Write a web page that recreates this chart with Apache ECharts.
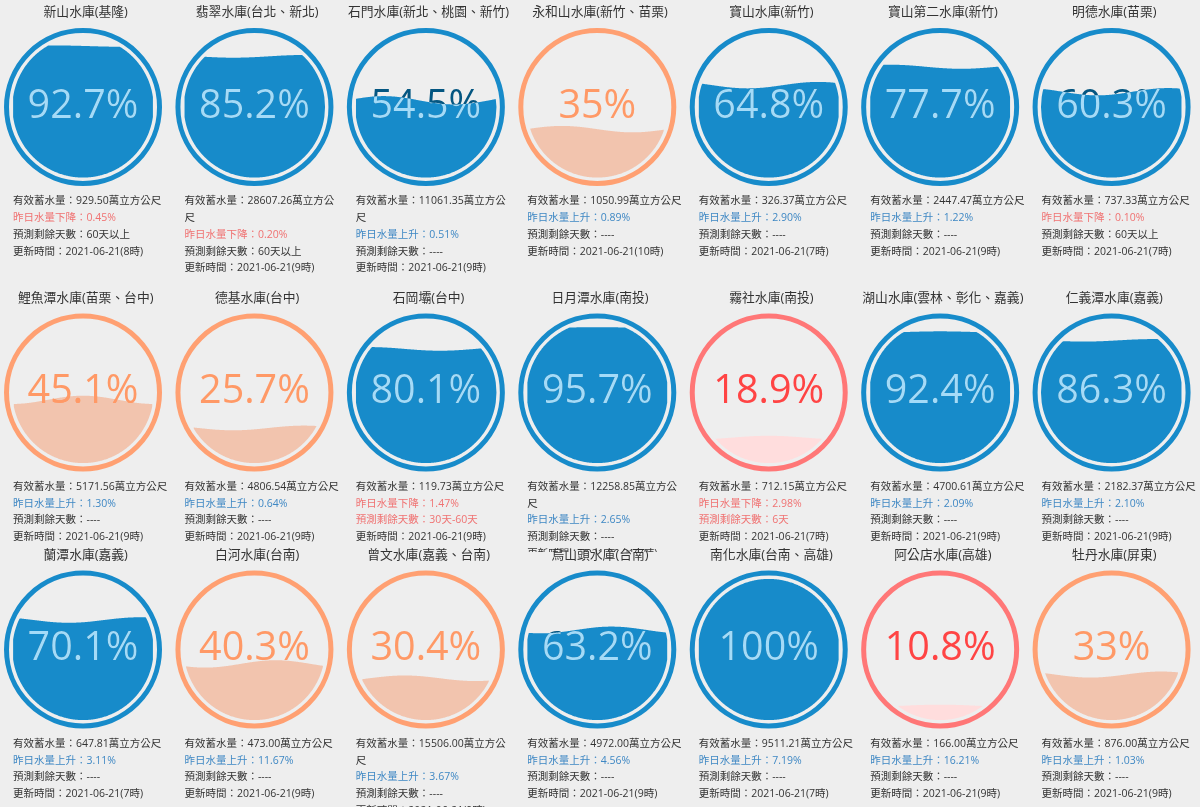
<!DOCTYPE html>
<html>
<head>
<meta charset="utf-8">
<script src="https://cdn.jsdelivr.net/npm/echarts@6/dist/echarts.min.js"></script>
<style>
html,body{margin:0;padding:0;background:#eeeeee;}
#main{width:1200px;height:807px;}
</style>
</head>
<body>
<div id="main"></div>
<script>
// ---------------- DATA ----------------
const names = [
  '新山水庫(基隆)', '翡翠水庫(台北、新北)', '石門水庫(新北、桃園、新竹)', '永和山水庫(新竹、苗栗)', '寶山水庫(新竹)', '寶山第二水庫(新竹)', '明德水庫(苗栗)',
  '鯉魚潭水庫(苗栗、台中)', '德基水庫(台中)', '石岡壩(台中)', '日月潭水庫(南投)', '霧社水庫(南投)', '湖山水庫(雲林、彰化、嘉義)', '仁義潭水庫(嘉義)',
  '蘭潭水庫(嘉義)', '白河水庫(台南)', '曾文水庫(嘉義、台南)', '烏山頭水庫(台南)', '南化水庫(台南、高雄)', '阿公店水庫(高雄)', '牡丹水庫(屏東)'
];
const percents = [
  92.7, 85.2, 54.5, 35, 64.8, 77.7, 60.3,
  45.1, 25.7, 80.1, 95.7, 18.9, 92.4, 86.3,
  70.1, 40.3, 30.4, 63.2, 100, 10.8, 33
];
const storage = [
  '929.50', '28607.26', '11061.35', '1050.99', '326.37', '2447.47', '737.33',
  '5171.56', '4806.54', '119.73', '12258.85', '712.15', '4700.61', '2182.37',
  '647.81', '473.00', '15506.00', '4972.00', '9511.21', '166.00', '876.00'
];
const trend = [
  '下降', '下降', '上升', '上升', '上升', '上升', '下降',
  '上升', '上升', '下降', '上升', '下降', '上升', '上升',
  '上升', '上升', '上升', '上升', '上升', '上升', '上升'
];
const trendRate = [
  '0.45', '0.20', '0.51', '0.89', '2.90', '1.22', '0.10',
  '1.30', '0.64', '1.47', '2.65', '2.98', '2.09', '2.10',
  '3.11', '11.67', '3.67', '4.56', '7.19', '16.21', '1.03'
];
const remainDays = [
  '60天以上', '60天以上', '----', '----', '----', '----', '60天以上',
  '----', '----', '30天-60天', '----', '6天', '----', '----',
  '----', '----', '----', '----', '----', '----', '----'
];
const updateDate = '2021-06-21';
const updateHour = [
  8, 9, 9, 10, 7, 9, 7,
  9, 9, 9, 7, 7, 9, 9,
  7, 9, 9, 9, 7, 9, 9
];

// ---------------- STYLE ----------------
const COLS = 7;
const ROW_TITLE_Y = [12.5, 298, 555];
const TITLE_DY = 94.5;           // title -> circle centre
const R = 79, RING = 5, GAP = 3.4;
const FILL_R = R - RING - GAP;
const WAVE_HEIGHT = 0.065;
const CENTER_DX = -2.7;
// horizontal position of the wave crest (fraction of the fill diameter)
const waveCrest = [
  0.3, 0.85, 0.2, 0.25, 0.85, 0.15, 0.9,
  0.5, 0.85, 0.1, 0.5, 0.5, 0.5, 0.8,
  0.9, 0.65, 0.35, 0.6, 0.5, 0.5, 0.85
];
const BG = '#eeeeee';
const CJK = '"Open Sans","Noto Sans CJK TC",sans-serif';
const INFO_SIZE = 10.5, INFO_W = 157, LH = 16.7;
const PAL = {
  blue:   { ring: '#178BCA', wave: '#178BCA', text: '#045681', waveText: '#A4DBF8' },
  orange: { ring: '#FFA072', wave: '#F2C4AE', text: '#FF9966', waveText: '#FF9966' },
  red:    { ring: '#FF7777', wave: '#FFDDDD', text: '#FF4444', waveText: '#FFAAAA' }
};
const TXT = { dark: '#333333', red: '#F07272', blue: '#3F88C4' };
function palette(p) { return p < 20 ? PAL.red : (p < 50 ? PAL.orange : PAL.blue); }

const measureCtx = document.createElement('canvas').getContext('2d');
measureCtx.font = INFO_SIZE + 'px ' + CJK;
function linesNeeded(str) {
  let lines = 1, acc = 0;
  for (const ch of str) {
    const w = measureCtx.measureText(ch).width;
    if (acc + w > INFO_W) { lines++; acc = w; } else { acc += w; }
  }
  return lines;
}

const grids = [], xAxes = [], yAxes = [], series = [];
for (let r = 0; r < 3; r++) {
  const cy = ROW_TITLE_Y[r] + TITLE_DY;
  grids.push({ left: 0, width: 1200, top: cy - FILL_R, height: 2 * FILL_R, containLabel: false });
  xAxes.push({ type: 'category', gridIndex: r, show: false, boundaryGap: true,
    data: names.slice(r * COLS, r * COLS + COLS) });
  yAxes.push({ type: 'value', gridIndex: r, show: false, min: 0, max: 100, splitLine: { show: false } });
  const data = [];
  for (let c = 0; c < COLS; c++) {
    const i = r * COLS + c;
    data.push([c, percents[i], i]);
  }
  series.push({
    type: 'custom', xAxisIndex: r, yAxisIndex: r, coordinateSystem: 'cartesian2d',
    clip: false, silent: true, animation: false, data: data,
    renderItem: renderGauge
  });
}

function infoText(x, y, text, color, wrap) {
  const st = { text: text, fill: color, fontSize: INFO_SIZE, fontFamily: CJK,
    lineHeight: LH, align: 'left', verticalAlign: 'top' };
  if (wrap) { st.width = INFO_W; st.overflow = 'break'; }
  return { type: 'text', x: x, y: y, style: st };
}

function renderGauge(params, api) {
  const col = api.value(0), p = api.value(1), idx = api.value(2);
  const lvl = api.coord([col, p]);
  const y0 = api.coord([col, 0])[1], y100 = api.coord([col, 100])[1];
  const band = api.size([1, 0])[0];
  const cellX = lvl[0];
  const cx = cellX + CENTER_DX;
  const cy = (y0 + y100) / 2;
  const frac = p / 100;
  const sc = frac <= 0.5 ? frac * 2 : (1 - frac) * 2;
  const waveH = FILL_R * WAVE_HEIGHT * sc;
  const base = lvl[1] + waveH * (1 - 2 * frac);
  const phase = 1.5 * Math.PI - 2 * Math.PI * waveCrest[idx];
  const left = cx - FILL_R;
  const waveY = x => base + waveH * Math.sin(2 * Math.PI * (x - left) / (2 * FILL_R) + phase);
  const pal = palette(p);

  const N = 200, top = [], bot = [];
  for (let k = 0; k <= N; k++) {
    const x = left + 2 * FILL_R * k / N;
    const dx = x - cx;
    const h = Math.sqrt(Math.max(0, FILL_R * FILL_R - dx * dx));
    const yt = Math.max(waveY(x), cy - h), yb = cy + h;
    if (yt < yb) { top.push([x, yt]); bot.push([x, yb]); }
  }
  const poly = top.concat(bot.reverse());
  const clipPts = [];
  for (let k = 0; k <= N; k++) {
    const x = left - 4 + (2 * FILL_R + 8) * k / N;
    clipPts.push([x, waveY(x)]);
  }
  clipPts.push([left + 2 * FILL_R + 4, cy + FILL_R + 4]);
  clipPts.push([left - 4, cy + FILL_R + 4]);

  const label = p + '%';
  const fontPx = R / 2;
  const textY = cy - 0.5;

  const down = trend[idx] === '下降';
  const daysRed = remainDays[idx] !== '----' && remainDays[idx] !== '60天以上';
  const l1 = '有效蓄水量：' + storage[idx] + '萬立方公尺';
  const n1 = linesNeeded(l1);
  const tx = cx - 70;
  let ty = cy + TITLE_DY - LH / 2;

  const children = [
    { type: 'rect', shape: { x: cellX - band / 2, y: cy - TITLE_DY - 3, width: band, height: 262 },
      style: { fill: BG } },
    { type: 'text', x: cellX, y: cy - TITLE_DY,
      style: { text: names[idx], fill: '#333', fontSize: 12.8, fontFamily: CJK,
        align: 'center', verticalAlign: 'middle' } },
    { type: 'circle', shape: { cx: cx, cy: cy, r: R - RING / 2 },
      style: { fill: null, stroke: pal.ring, lineWidth: RING } },
    { type: 'polygon', shape: { points: poly }, style: { fill: pal.wave } },
    { type: 'text', x: cx, y: textY,
      style: { text: label, fill: pal.text, fontSize: fontPx, fontFamily: '"Open Sans",sans-serif',
        align: 'center', verticalAlign: 'middle' } },
    { type: 'group', clipPath: { type: 'polygon', shape: { points: clipPts } },
      children: [
        { type: 'text', x: cx, y: textY,
          style: { text: label, fill: pal.waveText, fontSize: fontPx, fontFamily: '"Open Sans",sans-serif',
            align: 'center', verticalAlign: 'middle' } }
      ] }
  ];
  children.push(infoText(tx, ty, l1, TXT.dark, true));
  ty += LH * n1;
  children.push(infoText(tx, ty, '昨日水量' + trend[idx] + '：' + trendRate[idx] + '%', down ? TXT.red : TXT.blue));
  ty += LH;
  children.push(infoText(tx, ty, '預測剩餘天數：' + remainDays[idx], daysRed ? TXT.red : TXT.dark));
  ty += LH;
  children.push(infoText(tx, ty, '更新時間：' + updateDate + '(' + updateHour[idx] + '時)', TXT.dark));
  return { type: 'group', children: children };
}

const chart = echarts.init(document.getElementById('main'), null, { renderer: 'canvas' });
chart.setOption({
  backgroundColor: BG,
  animation: false,
  grid: grids,
  xAxis: xAxes,
  yAxis: yAxes,
  series: series
});
</script>
</body>
</html>
